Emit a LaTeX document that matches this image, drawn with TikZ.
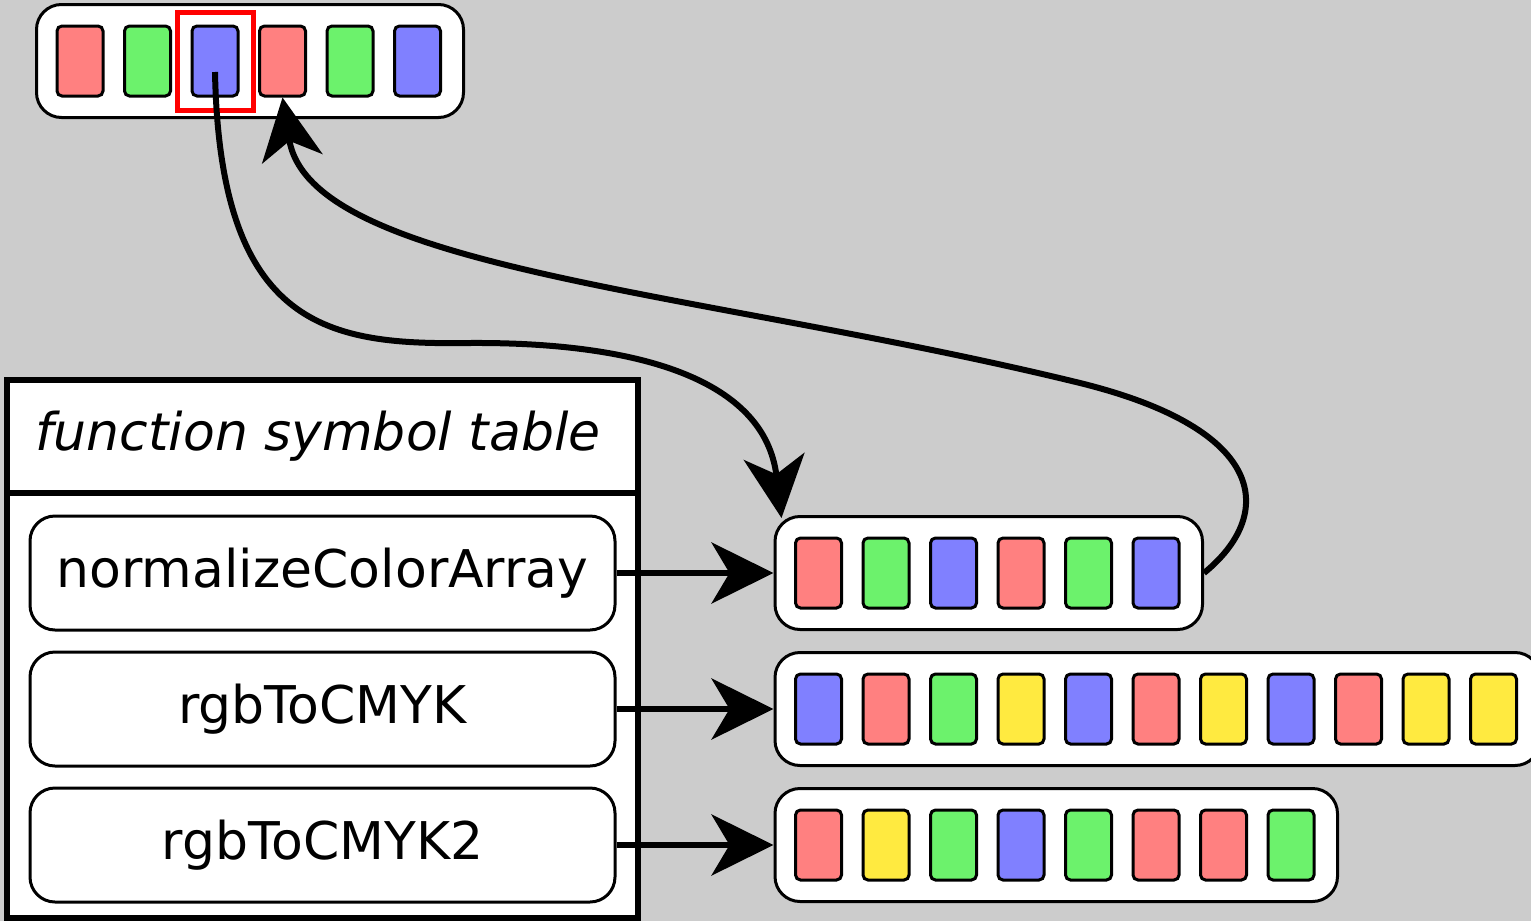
\documentclass[tikz,border=0pt]{standalone}
\usepackage{fontspec}
\setmainfont{DejaVu Sans}
\definecolor{bgGray}{RGB}{204,204,204}
\definecolor{cellRed}{RGB}{255,128,128}
\definecolor{cellGreen}{RGB}{108,242,108}
\definecolor{cellBlue}{RGB}{128,128,255}
\definecolor{cellYellow}{RGB}{255,234,64}
\usetikzlibrary{arrows.meta,positioning,calc}

\begin{document}
\begin{tikzpicture}[x=0.5pt, y=-0.5pt, thick,
    cell/.style={rectangle, rounded corners=2.5pt, draw=black, line width=1.5pt, minimum width=23pt, minimum height=35pt, inner sep=0pt},
    arraybox/.style={rectangle, rounded corners=12.5pt, draw=black, fill=white, line width=1.5pt, minimum height=56.5pt, inner sep=0pt, anchor=west},
    funcbox/.style={rectangle, rounded corners=12.5pt, draw=black, fill=white, line width=1.5pt, minimum width=292.5pt, minimum height=57pt, inner sep=0pt, font=\fontsize{26}{30}\selectfont},
    link/.style={-{Stealth[length=31pt, width=30.5pt, inset=9pt]}, line width=3pt, black}]
    \useasboundingbox (0,0) rectangle (1531,921);
    \clip (0,0) rectangle (1531,921);
    \fill[bgGray] (0,0) rectangle (1531,921);

    % symbol table
    \draw[line width=3pt, fill=white] (7,380) rectangle (638,918);
    \draw[line width=3pt] (7,493) -- (638,493);
    \node[font=\fontsize{26}{30}\selectfont\itshape] (title) at (318,436) {function symbol table};

    \node[funcbox] (fnorm) at (322.5,573) {normalizeColorArray};
    \node[funcbox, below=9.5pt of fnorm] (fcmyk) {rgbToCMYK};
    \node[funcbox, below=9.5pt of fcmyk] (fcmyktwo) {rgbToCMYK2};

    % arrays
    \node[arraybox, minimum width=213.5pt, anchor=north west] (top) at (35,3) {};
    \node[arraybox, minimum width=213.75pt, right=78.5pt of fnorm] (anorm) {};
    \node[arraybox, minimum width=382.5pt, right=78.5pt of fcmyk] (acmyk) {};
    \node[arraybox, minimum width=281.25pt, right=78.5pt of fcmyktwo] (acmyktwo) {};

    \foreach \c [count=\i] in {cellRed,cellGreen,cellBlue,cellRed,cellGreen,cellBlue}
        \node[cell, fill=\c] (t\i) at ($(top.west)+(-22.5+67.5*\i,0)$) {};
    \foreach \c [count=\i] in {cellRed,cellGreen,cellBlue,cellRed,cellGreen,cellBlue}
        \node[cell, fill=\c] (n\i) at ($(anorm.west)+(-22.5+67.5*\i,0)$) {};
    \foreach \c [count=\i] in {cellBlue,cellRed,cellGreen,cellYellow,cellBlue,cellRed,cellYellow,cellBlue,cellRed,cellYellow,cellYellow}
        \node[cell, fill=\c] (k\i) at ($(acmyk.west)+(-22.5+67.5*\i,0)$) {};
    \foreach \c [count=\i] in {cellRed,cellYellow,cellGreen,cellBlue,cellGreen,cellRed,cellRed,cellGreen}
        \node[cell, fill=\c] (m\i) at ($(acmyktwo.west)+(-22.5+67.5*\i,0)$) {};

    \node[draw=red, line width=2.5pt, minimum width=38pt, minimum height=49pt, inner sep=0pt] (pick) at (t3) {};

    \draw[link] (fnorm) -- (anorm);
    \draw[link] (fcmyk) -- (acmyk);
    \draw[link] (fcmyktwo) -- (acmyktwo);

    \coordinate (start) at ($(t3)+(0,11)$);
    \coordinate (dip) at (470,343);
    \coordinate (entry) at ($(anorm.north west)+(8,3)$);
    \coordinate (bend) at (1080,383);
    \draw[link] (start) .. controls (220,330) and (330,345) .. (dip) .. controls (640,342) and (765,380) .. (entry);
    \draw[link] (anorm.east) .. controls (1275,515) and (1270,430) .. (bend) .. controls (700,290) and (310,270) .. (t4.south);
\end{tikzpicture}
\end{document}
